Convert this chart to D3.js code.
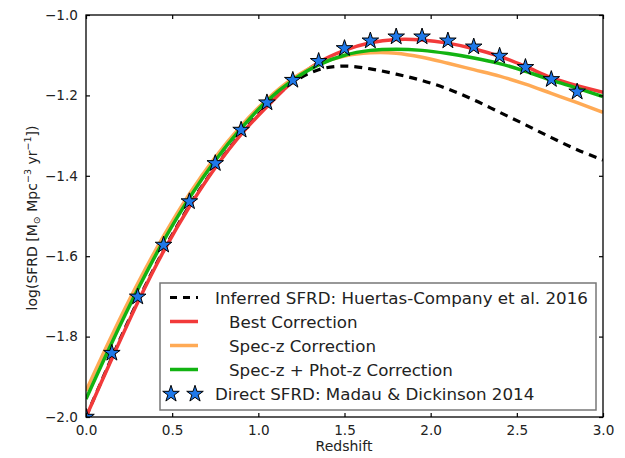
<!DOCTYPE html>
<html><head><meta charset="utf-8">
<script src="https://cdn.jsdelivr.net/npm/d3@7"></script>
<style>body{margin:0;background:#fff}svg{display:block}text{font-family:"DejaVu Sans",sans-serif}</style>
</head><body><svg id="c" width="625" height="458"></svg>
<script>
const zGrid = [0,0.15,0.3,0.45,0.6,0.75,0.9,1.05,1.2,1.35,1.5,1.65,1.8,1.95,2.1,2.25,2.4,2.55,2.7,2.85,3.0];
const inferred = [-2.0,-1.852,-1.712,-1.585,-1.474,-1.378,-1.295,-1.225,-1.168,-1.136,-1.127,-1.134,-1.147,-1.163,-1.184,-1.211,-1.242,-1.273,-1.305,-1.335,-1.361];
const bestCorr = [-2.0,-1.855,-1.715,-1.588,-1.477,-1.380,-1.297,-1.228,-1.165,-1.118,-1.088,-1.069,-1.061,-1.062,-1.070,-1.084,-1.103,-1.128,-1.156,-1.176,-1.192];
const speczCorr = [-1.935,-1.797,-1.668,-1.550,-1.445,-1.354,-1.276,-1.210,-1.158,-1.122,-1.102,-1.094,-1.095,-1.105,-1.120,-1.136,-1.152,-1.172,-1.195,-1.218,-1.242];
const specPhotCorr = [-1.955,-1.815,-1.683,-1.562,-1.455,-1.362,-1.282,-1.214,-1.162,-1.124,-1.100,-1.088,-1.085,-1.088,-1.096,-1.107,-1.121,-1.140,-1.162,-1.182,-1.203];
const madauZ = [0,0.15,0.3,0.45,0.6,0.75,0.9,1.05,1.2,1.35,1.5,1.65,1.8,1.95,2.1,2.25,2.4,2.55,2.7,2.85];
const madauSFRD = [-2.0,-1.841,-1.701,-1.572,-1.464,-1.369,-1.286,-1.218,-1.162,-1.115,-1.083,-1.064,-1.054,-1.054,-1.064,-1.079,-1.102,-1.130,-1.160,-1.191];
const xTicks = [0,0.5,1.0,1.5,2.0,2.5,3.0];
const yTicks = [-2.0,-1.8,-1.6,-1.4,-1.2,-1.0];
const legendLabels = ["Inferred SFRD: Huertas-Company et al. 2016","Best Correction","Spec-z Correction","Spec-z + Phot-z Correction","Direct SFRD: Madau & Dickinson 2014"];

const svg = d3.select("#c");
const L=86, R=603, T=15, B=417;
const x = d3.scaleLinear().domain([0,3]).range([L,R]);
const y = d3.scaleLinear().domain([-2,-1]).range([B,T]);
const fmt = d => d3.format(".1f")(d).replace("-","\u2212");

const plot = svg.append("g");
plot.append("clipPath").attr("id","clip").append("rect").attr("x",L).attr("y",T).attr("width",R-L).attr("height",B-T);
const g = plot.append("g").attr("clip-path","url(#clip)");
const line = d3.line().x(d=>x(d[0])).y(d=>y(d[1])).curve(d3.curveCatmullRom.alpha(0.5));
const series = [
  {v:inferred, c:"#000", w:3.2, dash:"8,6"},
  {v:bestCorr, c:"#f23a3a", w:3.5},
  {v:speczCorr, c:"#ffaa55", w:3.5},
  {v:specPhotCorr, c:"#12b312", w:3.5}
];
series.forEach(s=>{
  g.append("path").datum(zGrid.map((z,i)=>[z,s.v[i]]))
   .attr("d",line).attr("fill","none").attr("stroke",s.c).attr("stroke-width",s.w)
   .attr("stroke-dasharray",s.dash||null);
});
const star = d3.symbol().type(d3.symbolStar).size(85);
g.selectAll(".st").data(madauZ.map((z,i)=>[z,madauSFRD[i]])).enter().append("path")
  .attr("d",star).attr("transform",d=>`translate(${x(d[0])},${y(d[1])})`)
  .attr("fill","#1f78e8").attr("stroke","#000").attr("stroke-width",1);

// axes
svg.append("g").attr("transform",`translate(0,${B})`).call(d3.axisBottom(x).tickValues(xTicks).tickSizeInner(-4).tickSizeOuter(0).tickPadding(8).tickFormat(fmt));
svg.append("g").attr("transform",`translate(0,${T})`).call(d3.axisTop(x).tickValues(xTicks).tickSizeInner(-4).tickSizeOuter(0).tickFormat(""));
svg.append("g").attr("transform",`translate(${L},0)`).call(d3.axisLeft(y).tickValues(yTicks).tickSizeInner(-4).tickSizeOuter(0).tickPadding(8).tickFormat(fmt));
svg.append("g").attr("transform",`translate(${R},0)`).call(d3.axisRight(y).tickValues(yTicks).tickSizeInner(-4).tickSizeOuter(0).tickFormat(""));
svg.selectAll(".domain").remove();
svg.selectAll(".tick line").attr("stroke","#000").attr("stroke-width",1.2);
svg.selectAll(".tick text").attr("font-size",13.6).attr("fill","#222").attr("font-family","DejaVu Sans");
svg.append("rect").attr("x",L).attr("y",T).attr("width",R-L).attr("height",B-T).attr("fill","none").attr("stroke","#000").attr("stroke-width",1.3);

svg.append("text").attr("x",344).attr("y",451).attr("text-anchor","middle").attr("font-size",14).attr("fill","#222").text("Redshift");
const yl = svg.append("text").attr("transform","translate(37,218) rotate(-90)").attr("text-anchor","middle").attr("font-size",14).attr("fill","#222");
yl.append("tspan").text("log(SFRD [M");
yl.append("tspan").attr("font-size",9.5).attr("dy",3).text("\u2299");
yl.append("tspan").attr("dy",-3).text(" Mpc");
yl.append("tspan").attr("font-size",9.5).attr("dy",-6).text("\u22123");
yl.append("tspan").attr("dy",6).text(" yr");
yl.append("tspan").attr("font-size",9.5).attr("dy",-6).text("\u22121");
yl.append("tspan").attr("dy",6).text("])");

// legend
const lg = svg.append("g");
lg.append("rect").attr("x",160).attr("y",283).attr("width",436).attr("height",127).attr("fill","#fff").attr("stroke","#777").attr("stroke-width",1.5);
const rows = [297.5,321.5,345.5,369.5,394];
const textX = [215,229,229,229,215];
series.forEach((s,i)=>{
  lg.append("line").attr("x1",170).attr("x2",198).attr("y1",rows[i]).attr("y2",rows[i]).attr("stroke",s.c).attr("stroke-width",s.w).attr("stroke-dasharray",s.dash?"7,6":null);
});
[171,195].forEach(cx=>lg.append("path").attr("d",star).attr("transform",`translate(${cx},${rows[4]})`).attr("fill","#1f78e8").attr("stroke","#000").attr("stroke-width",1));
legendLabels.forEach((t,i)=>{
  lg.append("text").attr("x",textX[i]).attr("y",rows[i]+6).attr("font-size",16.7).attr("fill","#222").text(t);
});
</script></body></html>
